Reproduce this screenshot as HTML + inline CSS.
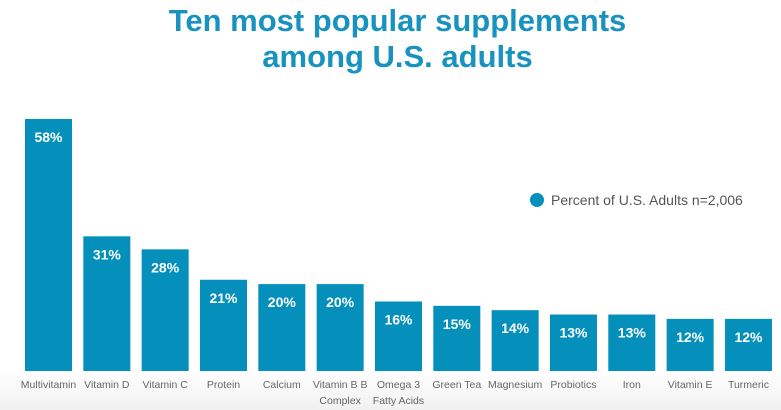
<!DOCTYPE html>
<html><head><meta charset="utf-8"><style>
body{margin:0;width:781px;height:410px;overflow:hidden;font-family:"Liberation Sans",sans-serif;background:linear-gradient(#fff 0,#fff 370px,#f1f1f1 410px)}
h1{position:absolute;left:0;width:795px;top:3px;margin:0;text-align:center;color:#1893c0;font-size:31px;line-height:36px;font-weight:bold}
svg{position:absolute;left:0;top:0}
</style></head><body>
<h1>Ten most popular supplements<br>among U.S. adults</h1>
<svg id="c" width="781" height="410">
<g>
<circle cx="537" cy="200" r="7" fill="#0490ba"/>
<text x="551" y="205" font-size="14" fill="#555">Percent of U.S. Adults n=2,006</text>
</g>
</svg>
<script>
const categories=[["Multivitamin"],["Vitamin D"],["Vitamin C"],["Protein"],["Calcium"],["Vitamin B B","Complex"],["Omega 3","Fatty Acids"],["Green Tea"],["Magnesium"],["Probiotics"],["Iron"],["Vitamin E"],["Turmeric"]];
const values=[58,31,28,21,20,20,16,15,14,13,13,12,12];
const labels=["58%","31%","28%","21%","20%","20%","16%","15%","14%","13%","13%","12%","12%"];
const svg=document.getElementById('c');const NS='http://www.w3.org/2000/svg';
const base=371,scale=252/58,x0=25,step=58.33,bw=47;
const xPos=i=>x0+i*step, yPos=v=>base-v*scale;
values.forEach((v,i)=>{
const r=document.createElementNS(NS,'rect');
r.setAttribute('x',xPos(i));r.setAttribute('y',yPos(v));r.setAttribute('width',bw);r.setAttribute('height',base-yPos(v));r.setAttribute('fill','#0490ba');


svg.appendChild(r);
const t=document.createElementNS(NS,'text');
t.setAttribute('x',xPos(i)+bw/2);t.setAttribute('y',yPos(v)+23);t.setAttribute('text-anchor','middle');t.setAttribute('fill','#fff');t.setAttribute('font-size','14');t.setAttribute('font-weight','bold');t.textContent=labels[i];


svg.appendChild(t);
categories[i].forEach((line,j)=>{
const c=document.createElementNS(NS,'text');
c.setAttribute('x',xPos(i)+bw/2);c.setAttribute('y',388+j*16);c.setAttribute('text-anchor','middle');c.setAttribute('fill','#666');c.setAttribute('font-size','10.5');c.textContent=line;


svg.appendChild(c);});
});
</script>
</body></html>
